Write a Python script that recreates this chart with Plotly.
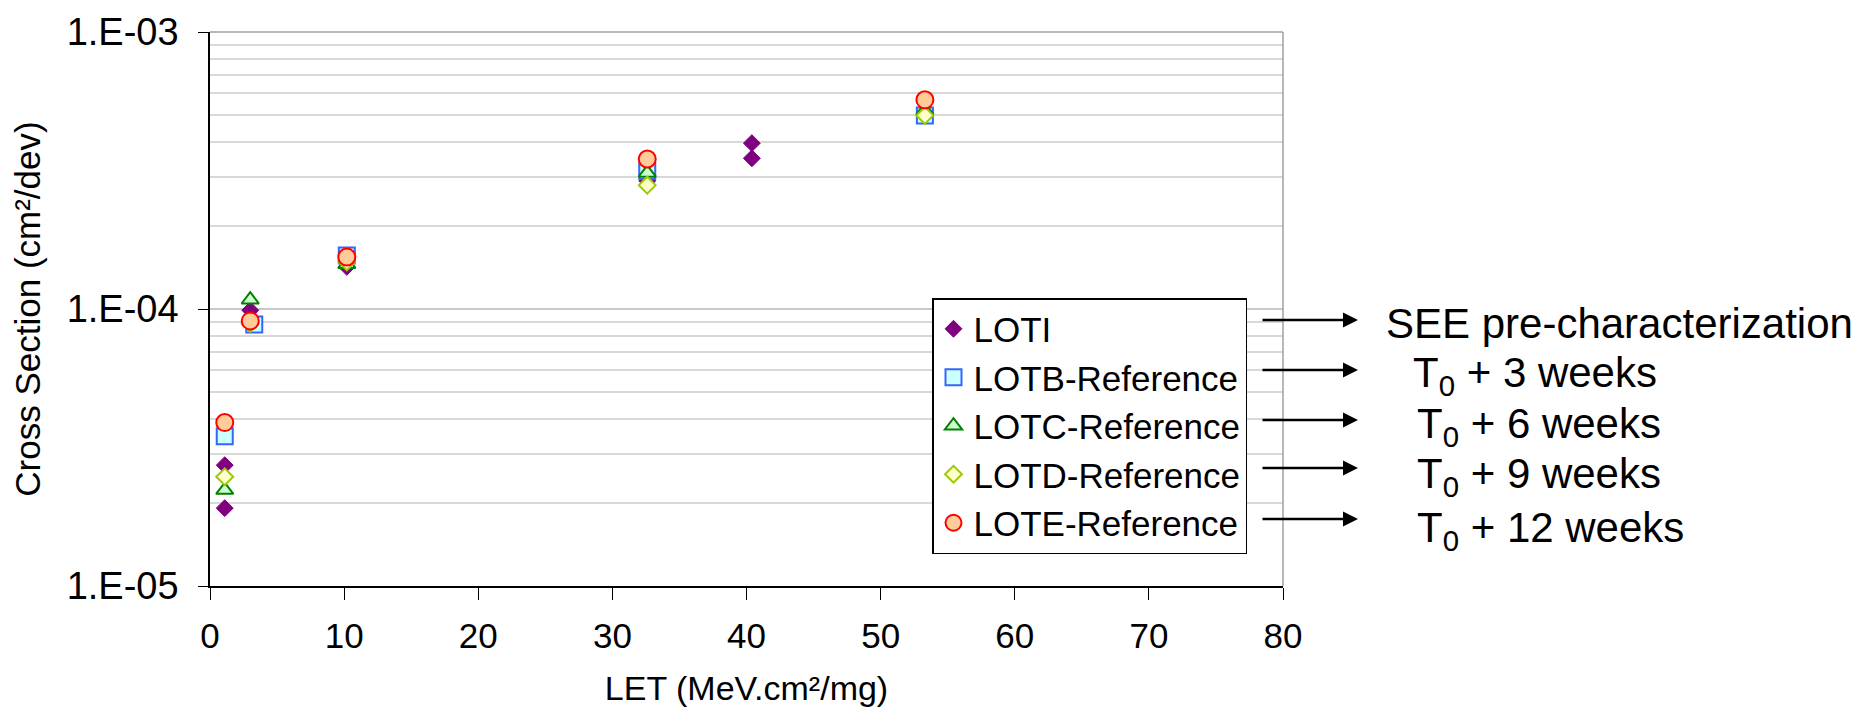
import plotly.graph_objects as go

# ---- data ----
let_loti = [1.1, 1.1, 3.0, 10.2, 32.6, 40.4, 40.4, 53.3]
xs_loti = [2.73e-5, 1.91e-5, 9.9e-5, 1.42e-4, 2.9e-4, 3.97e-4, 3.5e-4, 5.1e-4]

let_b = [1.1, 3.3, 10.2, 32.6, 53.3]
xs_b = [3.47e-5, 8.8e-5, 1.56e-4, 3.15e-4, 5.0e-4]

let_c = [1.1, 3.0, 10.2, 32.6, 53.3]
xs_c = [2.22e-5, 1.08e-4, 1.45e-4, 3.1e-4, 5.2e-4]

let_d = [1.1, 3.0, 10.2, 32.6, 53.3]
xs_d = [2.48e-5, 8.9e-5, 1.48e-4, 2.8e-4, 5.0e-4]

let_e = [1.1, 3.0, 10.2, 32.6, 53.3]
xs_e = [3.89e-5, 9.06e-5, 1.54e-4, 3.48e-4, 5.69e-4]

series_names = ["LOTI", "LOTB-Reference", "LOTC-Reference", "LOTD-Reference", "LOTE-Reference"]
side_labels = ["SEE pre-characterization", "T<sub>0</sub> + 3 weeks", "T<sub>0</sub> + 6 weeks",
               "T<sub>0</sub> + 9 weeks", "T<sub>0</sub> + 12 weeks"]
y_ticks = [1e-5, 1e-4, 1e-3]
y_ticktext = ["1.E-05", "1.E-04", "1.E-03"]
minor_vals = [m * 10 ** e for e in (-5, -4) for m in range(2, 10)]

FONT = "Liberation Sans, Arial, sans-serif"
NARROW = "Liberation Sans Narrow, Liberation Sans, Arial, sans-serif"

fig = go.Figure()
styles = [
    dict(symbol="diamond", size=13, color="#800080", line=dict(color="#800080", width=1)),
    dict(symbol="square", size=16, color="#CCFFFF", line=dict(color="#3366FF", width=2)),
    dict(symbol="triangle-up", size=15, color="#CCFFCC", line=dict(color="#008000", width=2)),
    dict(symbol="diamond", size=13, color="#FFFFCC", line=dict(color="#99CC00", width=2)),
    dict(symbol="circle", size=17, color="#FFCC99", line=dict(color="#FF0000", width=2)),
]
datasets = [(let_loti, xs_loti), (let_b, xs_b), (let_c, xs_c), (let_d, xs_d), (let_e, xs_e)]
for name, (xv, yv), st in zip(series_names, datasets, styles):
    fig.add_trace(go.Scatter(x=xv, y=yv, mode="markers", name=name, marker=st))

# plot area geometry in px (for paper conversions)
L, R, T, B = 202, 1275, 24, 578
W, H = R - L, B - T

def px_x(p):
    return (p - L) / W

def px_y(p):
    return (B - p) / H

annotations = []
arrow_rows = [312, 362, 412, 460, 511]
text_rows = [315, 367, 418, 468, 522]
text_x = [1376, 1403, 1407, 1407, 1407]
for ay_px, ty_px, tx_px, lab in zip(arrow_rows, text_rows, text_x, side_labels):
    annotations.append(dict(
        x=px_x(1350), y=px_y(ay_px), xref="paper", yref="paper",
        ax=-97, ay=0, text="", showarrow=True, arrowhead=2,
        arrowsize=1.2, arrowwidth=2.5, arrowcolor="black"))
    annotations.append(dict(
        x=px_x(tx_px), y=px_y(ty_px), xref="paper", yref="paper",
        text=lab, showarrow=False, xanchor="left", yanchor="middle",
        font=dict(family=FONT, size=42, color="black")))

fig.update_layout(
    width=1865, height=712,
    margin=dict(l=L, r=1865 - R, t=T, b=712 - B, autoexpand=False),
    paper_bgcolor="white", plot_bgcolor="white",
    font=dict(family=FONT, color="black"),
    showlegend=True,
    legend=dict(x=px_x(924), y=px_y(290), xanchor="left", yanchor="top",
                xref="paper", yref="paper",
                bgcolor="white", bordercolor="black", borderwidth=1.5,
                font=dict(family=FONT, size=35, color="black"),
                itemsizing="trace"),
    annotations=annotations,
    shapes=[
        dict(type="line", xref="paper", yref="paper", x0=0, x1=1, y0=1, y1=1,
             line=dict(color="#A0A0A0", width=1.5)),
        dict(type="line", xref="paper", yref="paper", x0=1, x1=1, y0=0, y1=1,
             line=dict(color="#A0A0A0", width=1.5)),
    ],
)

fig.update_xaxes(
    range=[0, 80], dtick=10, tick0=0, showgrid=False, zeroline=False, automargin=False,
    showline=True, linecolor="black", linewidth=1.5,
    ticks="outside", ticklen=12, tickcolor="black", tickwidth=1,
    tickfont=dict(family=NARROW, size=35, color="black"), ticklabelstandoff=6,
    title=dict(text="LET (MeV.cm²/mg)", font=dict(family=NARROW, size=34, color="black"), standoff=22),
)
fig.update_yaxes(
    type="log", range=[-5, -3], tickvals=y_ticks, ticktext=y_ticktext, automargin=False,
    showgrid=True, gridcolor="#C8C8C8", gridwidth=1.5, zeroline=False,
    showline=True, linecolor="black", linewidth=1.5,
    ticks="outside", ticklen=10, tickcolor="black", tickwidth=1,
    tickfont=dict(family=FONT, size=38, color="black"), ticklabelstandoff=12,
    minor=dict(tickvals=minor_vals, showgrid=True, gridcolor="#D8D8D8", gridwidth=1.5, ticks=""),
    title=dict(text="Cross Section (cm²/dev)", font=dict(family=FONT, size=35, color="black"), standoff=18),
)

fig.write_html("out.html")
